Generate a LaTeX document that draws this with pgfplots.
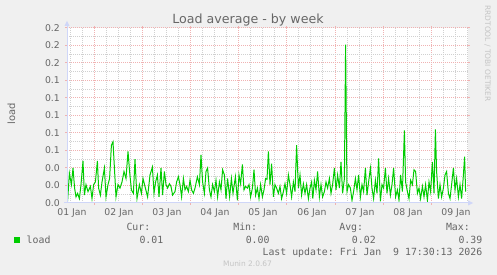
\documentclass[border=0pt]{standalone}
\usepackage{pgfplots}
\pgfplotsset{compat=1.18}
\usepackage{fontspec}
\setmainfont{DejaVu Sans}
\setmonofont{DejaVu Sans Mono}
\definecolor{bg}{HTML}{F0F0F0}
\definecolor{fontc}{HTML}{666666}
\definecolor{axisc}{HTML}{CFD6F8}
\definecolor{mgrid}{HTML}{F0B2B2}
\definecolor{mingrid}{HTML}{D0D0D0}
\definecolor{loadc}{HTML}{00CC00}
\definecolor{wm}{HTML}{C4C4C4}
\begin{document}
\begin{tikzpicture}
\fill[bg] (0bp,0bp) rectangle (497bp,275bp);
\useasboundingbox (0bp,0bp) rectangle (497bp,275bp);
\begin{axis}[
  at={(67bp,72bp)}, anchor=south west,
  scale only axis, width=401bp, height=175bp,
  xmin=0, xmax=200.5, ymin=0, ymax=0.2,
  axis line style={draw=none},
  axis background/.style={fill=white},
  xtick={13.65,37.72,61.79,85.86,109.93,134.0,158.07,182.14},
  xticklabels={},
  minor xtick={1.61,7.63,19.67,25.68,31.70,43.74,49.75,55.77,67.81,73.82,79.84,91.88,97.89,103.91,115.95,121.96,127.98,140.02,146.03,152.05,164.09,170.10,176.12,188.16,194.17,200.19},
  extra x ticks={2.5,26,50,74,98,122.5,146.5,170.5,194.5},
  extra x tick labels={01 Jan,02 Jan,03 Jan,04 Jan,05 Jan,06 Jan,07 Jan,08 Jan,09 Jan},
  extra x tick style={grid=none, major tick length=0pt},
  ytick={0,0.02,0.04,0.06,0.08,0.1,0.12,0.14,0.16,0.18,0.2},
  yticklabels={0.0,0.0,0.0,0.1,0.1,0.1,0.1,0.1,0.2,0.2,0.2},
  minor ytick={0.01,0.03,0.05,0.07,0.09,0.11,0.13,0.15,0.17,0.19},
  grid=both,
  major grid style={mgrid, dash pattern=on 1bp off 1bp, line width=1bp},
  minor grid style={mingrid, dash pattern=on 1bp off 1bp, line width=1bp},
  tick align=outside,
  major tick length=2bp, minor tick length=0pt,
  tick style={mgrid, line width=1bp},
  xticklabel style={font=\fontsize{9.33}{11}\selectfont, text=fontc, anchor=base, inner sep=0pt, yshift=-13bp},
  yticklabel style={font=\fontsize{9.33}{11}\selectfont, text=fontc, anchor=east, inner sep=0pt, xshift=-5bp},
]
\addplot[loadc, line width=1bp] coordinates {
(0.3,0.002)(1.2,0.034)(2.2,0.021)(3,0.040)(3.8,0.017)(4.5,0.007)(5.3,0.011)(6.2,0.005)(7,0.021)(8,0.048)(8.7,0.009)(9.5,0.021)(10.5,0.013)(11.7,0.019)(12.5,0.005)(13.3,0.021)(14.2,0.024)(15.2,0.048)(15.8,0.017)(16.7,0.009)(17.5,0.024)(18.7,0.040)(19.5,0.007)(20.5,0.021)(21.3,0.028)(22.2,0.066)(23,0.070)(23.8,0.036)(24.5,0.007)(25.5,0.021)(26.5,0.017)(27.5,0.024)(28.5,0.036)(29.5,0.028)(30.5,0.059)(31.3,0.036)(32.2,0.015)(33.2,0.011)(34,0.050)(35,0.005)(36.2,0.021)(37.2,0.011)(38,0.028)(39.2,0.017)
(40.3,0.007)(41.5,0.032)(42.7,0.041)(43.5,0.011)(44.3,0.024)(45.2,0.032)(46,0.007)(47,0.040)(47.8,0.009)(48.7,0.036)(49.5,0.021)(50.3,0.017)(51.2,0.022)(52,0.019)(52.8,0.009)(54,0.013)(54.8,0.024)(55.7,0.030)(56.5,0.021)(57.3,0.007)(58.2,0.028)(59,0.015)(59.8,0.019)(60.7,0.013)(61.5,0.026)(62.3,0.015)(63.2,0.011)(64,0.017)(65.2,0.030)(66.2,0.021)(67,0.055)(67.8,0.024)(68.7,0.011)(69.5,0.036)(70.3,0.040)(71.2,0.015)(72,0.007)(72.8,0.021)(73.7,0.013)(74.5,0.026)(75.3,0.007)(76.2,0.024)(77,0.015)(77.8,0.038)(78.7,0.032)(79.5,0.005)(80.3,0.028)
(81.3,0.007)(82.2,0.028)(83,0.011)(84.2,0.030)(85.2,0.003)(86,0.032)(86.8,0.022)(87.7,0.044)(88.5,0.015)(89.3,0.019)(90.2,0.017)(91,0.021)(91.8,0.007)(92.7,0.017)(93.5,0.038)(94.3,0.009)(95.2,0.017)(96,0.005)(96.8,0.021)(97.7,0.007)(98.5,0.015)(99.3,0.028)(100,0.027)(100.7,0.059)(101.5,0.021)(102.3,0.045)(103.2,0.007)(104,0.021)(104.8,0.017)(105.7,0.011)(106.5,0.019)(107.3,0.005)(108.2,0.013)(109,0.022)(109.8,0.011)(110.7,0.032)(111.5,0.021)(112.3,0.007)(113.2,0.024)(114,0.013)(114.8,0.066)(115.7,0.017)(116.5,0.032)(117.3,0.009)(118.2,0.022)(119,0.011)(119.8,0.021)(120.7,0.005)(121.5,0.017)
(122.3,0.024)(122.9,0.005)(123.7,0.026)(124.5,0.015)(125.3,0.036)(126.2,0.007)(127,0.021)(127.8,0.007)(128.7,0.013)(129.5,0.024)(130.3,0.017)(131.2,0.028)(132,0.011)(132.8,0.021)(133.7,0.040)(134.5,0.015)(135.3,0.032)(136.2,0.017)(137,0.047)(137.8,0.011)(138.7,0.028)(139.3,0.181)(140,0.013)(140.8,0.021)(141.7,0.017)(142.5,0.003)(143.3,0.013)(144.2,0.028)(145,0.015)(145.8,0.032)(146.7,0.007)(147.5,0.021)(148.3,0.013)(149.2,0.040)(150,0.009)(150.8,0.024)(151.7,0.040)(152.5,0.017)(153.3,0.005)(154.2,0.026)(155,0.011)(155.8,0.051)(156.7,0.002)(157.5,0.021)(158.3,0.017)(159.2,0.040)(160,0.011)(160.8,0.028)(161.7,0.009)(162.5,0.021)(163.3,0.040)
(164.3,0.007)(165.2,0.015)(166,0.003)(166.8,0.032)(167.7,0.013)(168.7,0.083)(169.3,0.024)(170.2,0.013)(171,0.005)(171.8,0.026)(172.7,0.021)(173.5,0.038)(174.3,0.036)(175.2,0.011)(176,0.017)(176.8,0.005)(177.7,0.019)(178.5,0.007)(179.3,0.021)(180.2,0.003)(181,0.024)(181.8,0.013)(182.7,0.047)(183.5,0.011)(184.2,0.084)(184.8,0.036)(185.7,0.005)(186.5,0.021)(187.3,0.007)(188.2,0.017)(189,0.032)(189.8,0.036)(190.7,0.011)(191.5,0.005)(192.3,0.021)(193.2,0.040)(194,0.015)(194.8,0.028)(195.7,0.007)(196.5,0.021)(197.3,0.005)(198.2,0.032)(198.8,0.053)(199.3,0.013)
};
\end{axis}
% axes with arrows
\draw[axisc, line width=1bp] (67bp,72bp) -- (67bp,249bp);
\fill[axisc] (64.5bp,249bp) -- (69.5bp,249bp) -- (67bp,254bp) -- cycle;
\draw[axisc, line width=1bp] (64bp,72bp) -- (468bp,72bp);
\fill[axisc] (468bp,69.5bp) -- (468bp,74.5bp) -- (473bp,72bp) -- cycle;
% texts
\node[anchor=base, inner sep=0pt, font=\fontsize{12.67}{14}\selectfont, text=fontc] at (248bp,251bp) {Load average - by week};
\node[rotate=90, anchor=base, inner sep=0pt, font=\fontsize{10}{12}\selectfont, text=fontc] at (15bp,161bp) {load};
\node[rotate=-90, anchor=base, inner sep=0pt, font=\fontsize{7.5}{9}\selectfont, text=wm] at (485bp,221.5bp) {RRDTOOL / TOBI OETIKER};
\node[anchor=base, inner sep=0pt, font=\fontsize{7.5}{9}\selectfont, text=wm] at (247.5bp,9bp) {Munin 2.0.67};
% legend
\fill[loadc] (14bp,32bp) rectangle (20bp,38bp);
\begin{scope}[every node/.style={inner sep=0pt, font=\ttfamily\fontsize{9.9}{12}\selectfont, text=fontc}]
\node[anchor=base west] at (26.5bp,31.7bp) {load};
\node[anchor=base east] at (150.5bp,44bp) {Cur:};
\node[anchor=base east] at (163.5bp,31.7bp) {0.01};
\node[anchor=base east] at (257.3bp,44bp) {Min:};
\node[anchor=base east] at (269.7bp,31.7bp) {0.00};
\node[anchor=base east] at (363.3bp,44bp) {Avg:};
\node[anchor=base east] at (375.9bp,31.7bp) {0.02};
\node[anchor=base east] at (470bp,44bp) {Max:};
\node[anchor=base east] at (482.5bp,31.7bp) {0.39};
\node[anchor=base east] at (482.5bp,20bp) {Last update: Fri Jan\ \ 9 17:30:13 2026};
\end{scope}
\end{tikzpicture}
\end{document}
